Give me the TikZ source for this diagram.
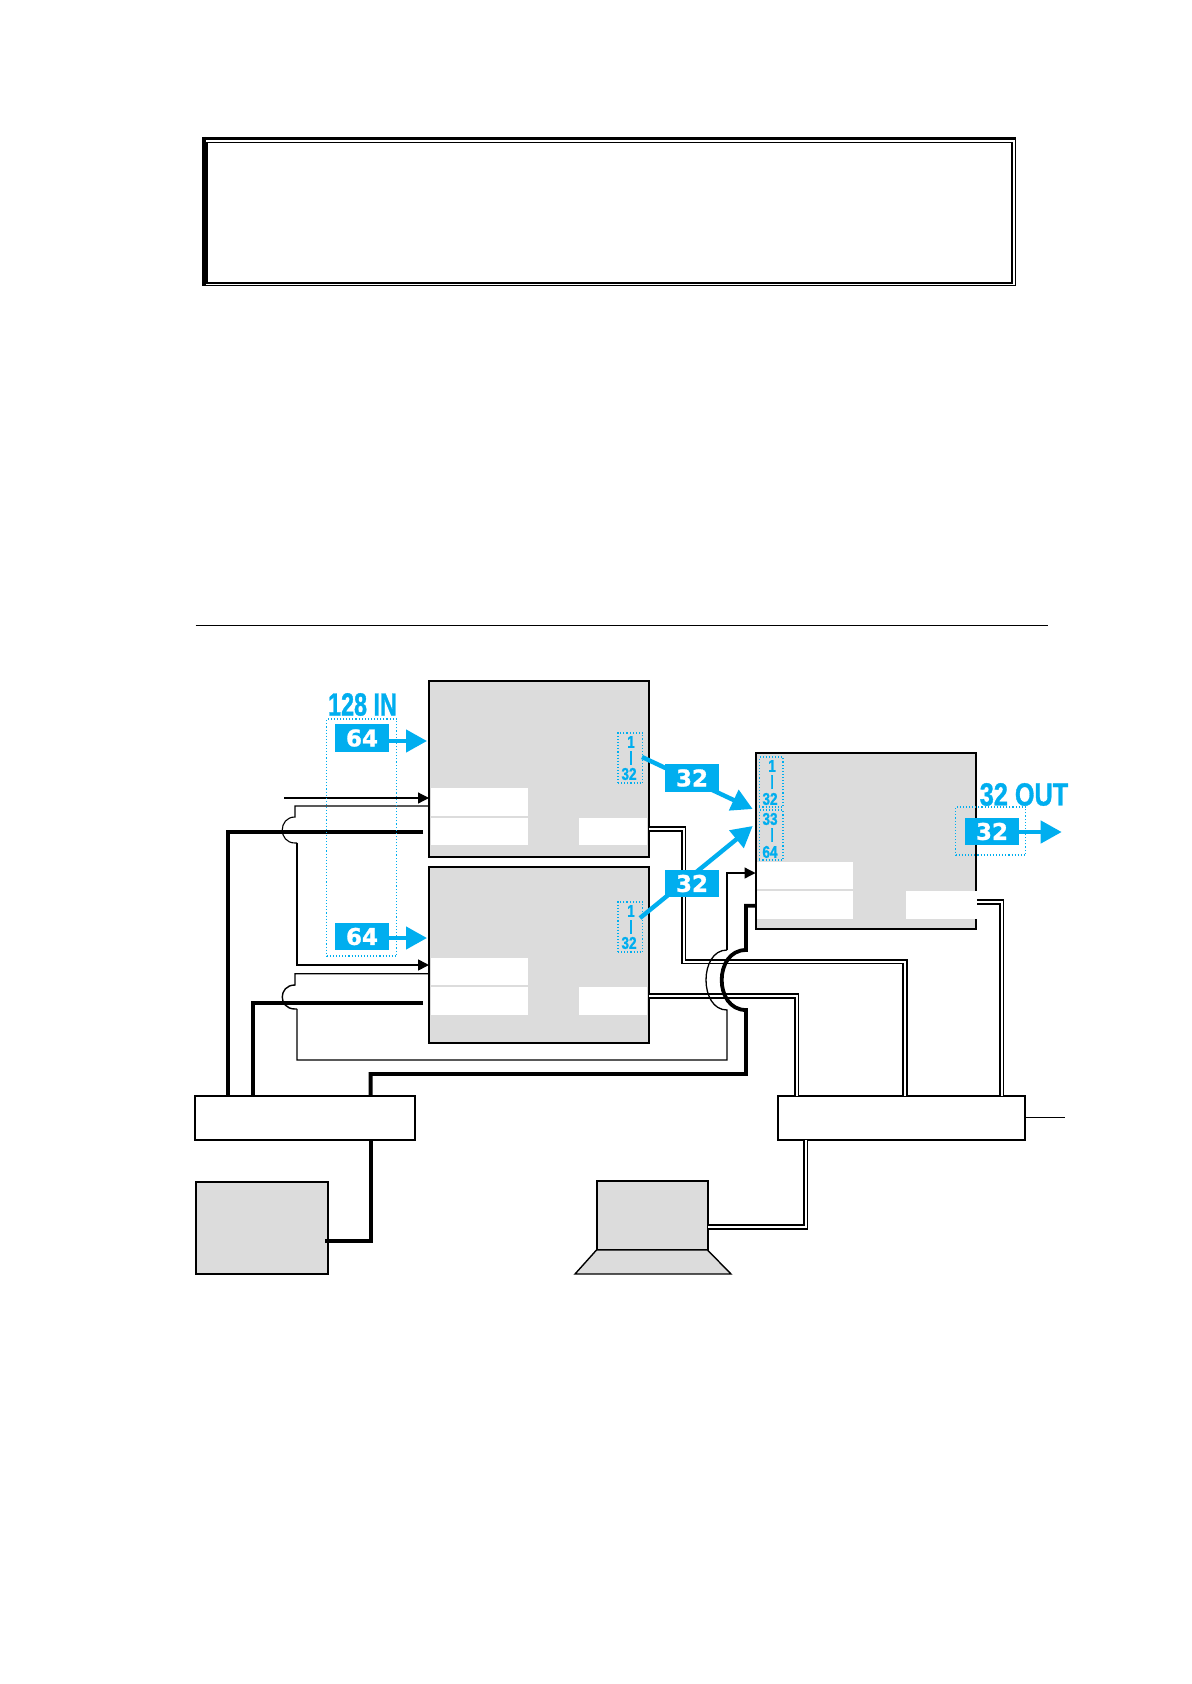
\documentclass[tikz,border=0pt]{standalone}
\usepackage{fontspec}
\usepackage{graphicx}
\setmainfont{Liberation Sans}[BoldFeatures={FakeBold=1.2}]
\newfontfamily\wide{DejaVu Sans}[BoldFeatures={FakeBold=1.2}]
\usetikzlibrary{arrows.meta}
\definecolor{blu}{HTML}{00AEEF}
\definecolor{gry}{HTML}{DCDCDC}
\newcommand{\pbox}[6]{\pgfmathsetmacro\pw{(#4-#2)*0.5}\pgfmathsetmacro\ph{(#5-#3)*0.5}\node[#6,minimum width=\pw pt,minimum height=\ph pt] (#1) at ({(#2+#4)/2},{(#3+#5)/2}) {};}
\tikzset{
 every node/.style={inner sep=0pt,outer sep=0pt},
 unit/.style={draw=black,line width=1pt,fill=gry},
 plain/.style={draw=black,line width=1pt,fill=white},
 cell/.style={fill=white},
 dots/.style={draw=blu,line width=.55pt,densely dotted},
 thin1/.style={draw=black,line width=.55pt},
 thick1/.style={draw=black,line width=1.9pt},
 dbl/.style={draw=black,line width=.8pt,double=white,double distance=1pt},
 blk/.style={-{Triangle[length=5.5pt,width=5.5pt]}},
 bluarrow/.style={draw=blu,line width=2.2pt,-{Triangle[length=10.5pt,width=11pt]}},
 tag/.style={fill=blu,text=white,font=\wide\fontsize{11.5}{12}\bfseries\selectfont,minimum width=27pt,minimum height=13.8pt},
 hdr/.style={text=blu,font=\fontsize{16}{17}\bfseries\selectfont},
 pin/.style={text=blu,font=\fontsize{8.5}{9}\bfseries\selectfont},
}
\begin{document}
\begin{tikzpicture}[x=.5pt,y=-.5pt]
\useasboundingbox (0,0) rectangle (1191,1684);
\fill[white] (0,0) rectangle (1191,1684);
% title frame
\pbox{frameout}{203}{138}{1015.4}{285.6}{draw=black,line width=.75pt}
\pbox{framein}{207}{142.3}{1012}{283.3}{draw=black,line width=.55pt}
\coordinate (fl1) at (204,137);
\coordinate (fl2) at (204,286.3);
\coordinate (ft1) at (202,138.8);
\coordinate (ft2) at (1016,138.8);
\draw[line width=2pt] (fl1) -- (fl2);
\draw[line width=1.5pt] (ft1) -- (ft2);
\draw[line width=1.1pt] (framein.north east) -- (framein.south east) -- (framein.south west);
% rule
\coordinate (ruleL) at (195.5,625);
\coordinate (ruleR) at (1047.5,625);
\draw[line width=.5pt] (ruleL) -- (ruleR);
% units
\pbox{A}{429}{681}{649}{857}{unit}
\pbox{B}{429}{867}{649}{1043}{unit}
\pbox{C}{755.5}{753}{976}{929}{unit}
\pbox{Aa}{431}{788}{528}{816}{cell}
\pbox{Ab}{431}{818}{528}{845}{cell}
\pbox{Ar}{579}{818}{647}{845}{cell}
\pbox{Ba}{431}{958}{528}{985}{cell}
\pbox{Bb}{431}{987}{528}{1015}{cell}
\pbox{Br}{579}{987}{647}{1015}{cell}
\pbox{Ca}{756.5}{862}{853}{889}{cell}
\pbox{Cb}{756.5}{891}{853}{919}{cell}
\pbox{Cr}{906}{891}{977}{919}{cell}
\pbox{D}{194.5}{1096}{415}{1140}{plain}
\pbox{E}{777.5}{1096}{1025.2}{1140}{plain}
\pbox{F}{196}{1182}{327.5}{1274}{unit}
\pbox{L}{596.5}{1181}{707.5}{1250}{unit}
\coordinate (ba) at (575,1274);
\coordinate (bb) at (731,1274);
\draw[line width=.7pt,fill=gry] (L.south west) -- (ba) -- (bb) -- (L.south east) -- cycle;
% double lines
\coordinate (pA) at (649,829);
\coordinate (tA) at (683.5,961.5);
\coordinate (xA) at (905,1096);
\coordinate (pB) at (649,996);
\coordinate (xB) at (796.7,1096);
\coordinate (pC) at (977,902);
\coordinate (xC) at (1001.7,1096);
\coordinate (xL) at (805.7,1227);
\coordinate (pL) at (708,1227);
\draw[dbl] (pA) -| (tA) -| (xA);
\draw[dbl] (pB) -| (xB);
\draw[dbl] (pC) -| (xC);
\draw[dbl] (pL) -| (xL |- E.south);
% E output
\coordinate (out) at (1065,1117.7);
\draw[line width=.6pt] (E.east |- out) -- (out);
% control lines, box A
\coordinate (c0) at (284,798);
\draw[line width=.6pt,blk] (c0) -- (A.west |- c0);
\coordinate (a1) at (295,806);
\coordinate (a2) at (295,817);
\coordinate (a3) at (295,843);
\coordinate (a4) at (297,843);
\coordinate (a5) at (297,965);
\draw[thin1] (A.west |- a1) -- (a1) -- (a2) .. controls (278,817) and (278,843) .. (a3) -- (a4);
\draw[line width=.8pt,blk] (a4) -- (a5) -- (B.west |- a5);
\coordinate (b1) at (295,973.7);
\coordinate (b2) at (295,985);
\coordinate (b3) at (295,1009);
\coordinate (b4) at (297,1009);
\coordinate (b5) at (297,1060);
\coordinate (b6) at (727,1060);
\coordinate (b7) at (727,1010);
\coordinate (b8) at (727,950);
\coordinate (b9) at (727,873);
\draw[line width=.7pt] (B.west |- b1) -- (b1) -- (b2) .. controls (278,985) and (278,1009) .. (b3) -- (b4);
\draw[black,line width=.65pt] (b4) -- (b5) -- (b6) -- (b7) .. controls (699,1010) and (699,950) .. (b8);
\draw[black,line width=.65pt,blk] (b8) -- (b9) -- (C.west |- b9);
% thick lines
\coordinate (t1) at (423,832);
\coordinate (t2) at (228,832);
\coordinate (t3) at (423,1002.7);
\coordinate (t4) at (252.7,1002.7);
\draw[thick1] (t1) -- (t2) -- (t2 |- D.north);
\draw[thick1] (t3) -- (t4) -- (t4 |- D.north);
\coordinate (g1) at (370.6,1074);
\coordinate (g2) at (746,1074);
\coordinate (g3) at (746,1010);
\coordinate (g4) at (746,950);
\coordinate (g5) at (746,905.7);
\draw[thick1] (g1 |- D.north) -- (g1) -- (g2) -- (g3) .. controls (713.6,1010) and (713.6,950) .. (g4) -- (g5) -- (C.west |- g5);
\coordinate (f1) at (325,1240.7);
\coordinate (f2) at (370.6,1240.7);
\draw[thick1] (f1) -- (f2) -- (f2 |- D.south);
% blue dotted frames
\pbox{inAll}{326.7}{719}{396.7}{956}{dots}
\pbox{pa}{618}{733}{642.7}{783}{dots}
\pbox{pb}{618}{902}{642.7}{952}{dots}
\pbox{pc}{759.3}{757}{783}{807}{dots}
\pbox{pd}{759.3}{810}{783}{860}{dots}
\pbox{outAll}{955.7}{807}{1025.7}{855}{dots}
% blue arrows
\coordinate (tipC1) at (752.7,809);
\coordinate (tipC2) at (752.7,826);
\coordinate (sa) at (642,757);
\coordinate (sb) at (640,918);
\draw[bluarrow] (sa) -- (tipC1);
\draw[bluarrow] (sb) -- (tipC2);
\node[tag] (t64a) at (362,738) {64};
\node[tag] (t64b) at (362,936.5) {64};
\node[tag] (t32a) at (692,778) {32};
\node[tag] (t32b) at (692,883.5) {32};
\node[tag] (t32c) at (992,831.5) {32};
\coordinate (tipO) at (1061.7,832);
\coordinate (tipA) at (427,741);
\coordinate (tipB) at (427,938);
\draw[bluarrow] (t64a.east |- tipA) -- (tipA);
\draw[bluarrow] (t64b.east |- tipB) -- (tipB);
\draw[bluarrow] (t32c.east |- tipO) -- (tipO);
% blue texts
\node[hdr] (h128) at (362.5,704.5) {\scalebox{.73}[1]{128 IN}};
\node[hdr] (h32) at (1024,794.5) {\scalebox{.79}[1]{32 OUT}};
\newcommand{\sm}[1]{\scalebox{.8}[1]{#1}}
\node[pin] at (631,742) {\sm{1}};
\node[pin] at (629,774) {\sm{32}};
\node[pin] at (631,911) {\sm{1}};
\node[pin] at (629,943) {\sm{32}};
\node[pin] at (772,766) {\sm{1}};
\node[pin] at (770,799) {\sm{32}};
\node[pin] at (770,819) {\sm{33}};
\node[pin] at (770,852) {\sm{64}};
\node[pin] at (631,758) {\scalebox{.7}[.85]{|}};
\node[pin] at (631,927) {\scalebox{.7}[.85]{|}};
\node[pin] at (772,782) {\scalebox{.7}[.85]{|}};
\node[pin] at (772,835) {\scalebox{.7}[.85]{|}};
\end{tikzpicture}
\end{document}
